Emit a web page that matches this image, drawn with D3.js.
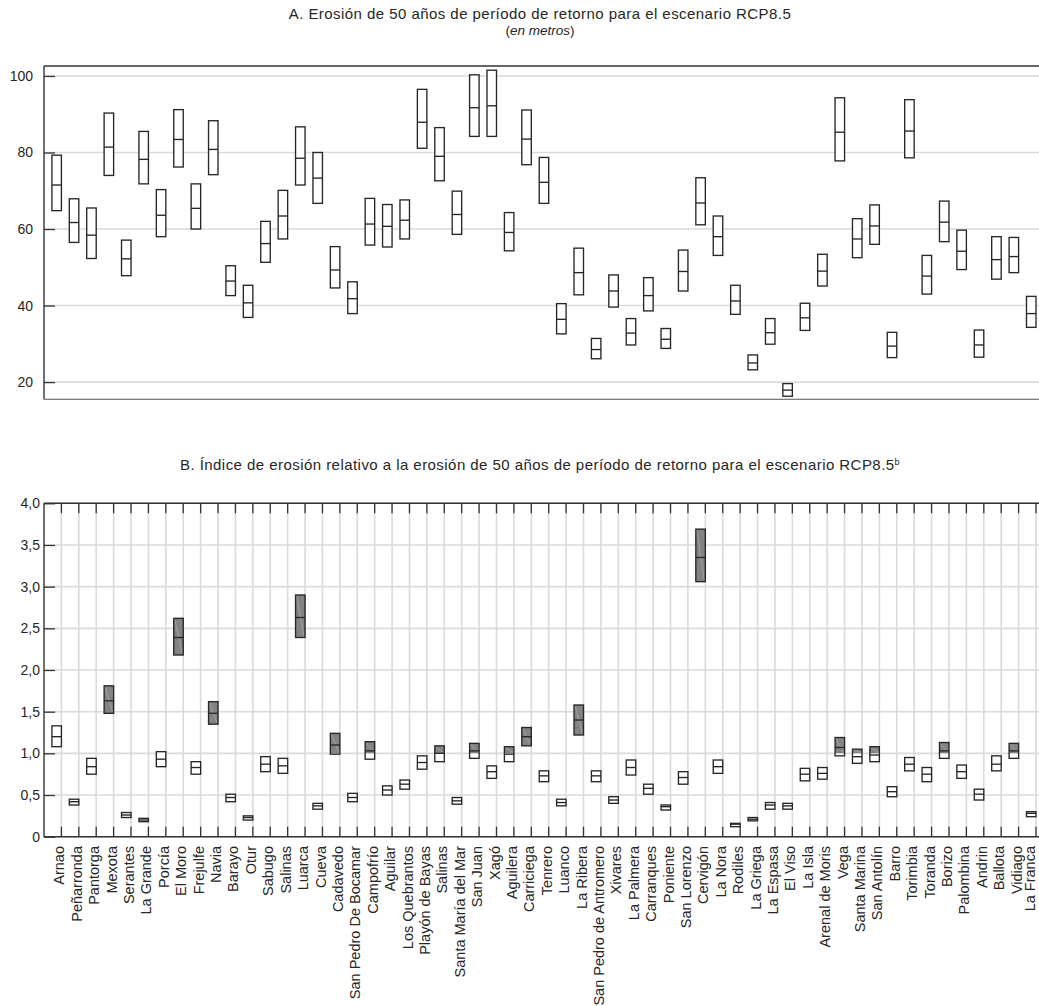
<!DOCTYPE html>
<html>
<head>
<meta charset="utf-8">
<script src="https://cdn.jsdelivr.net/npm/d3@7"></script>
<style>
  html, body { margin: 0; padding: 0; background: #fff; }
  svg { display: block; font-family: "Liberation Sans", Arial, Helvetica, sans-serif; }
</style>
</head>
<body>
<svg id="chart" width="1039" height="1006"></svg>
<script>
// Beaches, west to east
const beaches = ["Arnao","Peñarronda","Pantorga","Mexota","Serantes","La Grande","Porcía","El Moro","Frejulfe","Navia",
  "Barayo","Otur","Sabugo","Salinas","Luarca","Cueva","Cadavedo","San Pedro De Bocamar","Campofrío","Aguilar",
  "Los Quebrantos","Playón de Bayas","Salinas","Santa María del Mar","San Juan","Xagó","Aguilera","Carriciega","Tenrero","Luanco",
  "La Ribera","San Pedro de Antromero","Xivares","La Palmera","Carranques","Poniente","San Lorenzo","Cervigón","La Nora","Rodiles",
  "La Griega","La Espasa","El Viso","La Isla","Arenal de Moris","Vega","Santa Marina","San Antolín","Barro","Torimbia",
  "Toranda","Borizo","Palombina","Andrin","Ballota","Vidiago","La Franca"];

// A. 50-year return period erosion, RCP8.5 (metres): upper, central, lower
const erosionHigh = [79.3,67.9,65.5,90.3,57.1,85.5,70.3,91.2,71.8,88.3,
  50.4,45.3,62.0,70.1,86.7,80.0,55.4,46.2,68.0,66.4,
  67.6,96.5,86.5,69.9,100.3,101.5,64.3,91.1,78.7,40.5,
  55.0,31.4,48.0,36.6,47.3,34.0,54.5,73.4,63.4,45.3,
  27.1,36.6,19.6,40.6,53.4,94.3,62.7,66.3,33.0,93.8,
  53.1,67.3,59.7,33.6,58.0,57.8,42.4];
const erosionMid = [71.5,61.7,58.4,81.4,52.2,78.2,63.6,83.4,65.4,80.8,
  46.4,40.7,56.2,63.4,78.5,73.3,49.3,41.8,61.3,60.7,
  62.3,87.9,79.0,63.8,91.7,92.2,59.1,83.5,72.2,36.4,
  48.6,28.5,43.8,32.8,42.6,31.2,48.9,66.8,58.0,41.2,
  25.0,32.9,17.9,36.8,49.0,85.3,57.4,60.8,29.4,85.6,
  47.7,61.8,54.2,29.7,52.0,52.8,37.9];
const erosionLow = [64.8,56.5,52.3,74.0,47.8,71.8,58.0,76.2,60.0,74.2,
  42.6,36.9,51.3,57.4,71.5,66.7,44.6,37.9,55.8,55.3,
  57.4,81.1,72.6,58.6,84.2,84.2,54.3,76.8,66.7,32.6,
  42.8,26.1,39.6,29.7,38.6,28.8,43.8,61.1,53.1,37.7,
  23.2,29.9,16.3,33.5,45.1,77.8,52.5,56.0,26.4,78.6,
  43.0,56.7,49.4,26.5,46.9,48.6,34.3];

// B. Erosion index relative to the 50-year return period erosion: upper, central, lower
const indexHigh = [1.33,0.45,0.94,1.81,0.29,0.22,1.02,2.62,0.90,1.62,
  0.51,0.25,0.96,0.94,2.90,0.40,1.24,0.52,1.14,0.61,
  0.68,0.97,1.09,0.47,1.12,0.85,1.08,1.31,0.79,0.45,
  1.58,0.79,0.48,0.92,0.63,0.38,0.78,3.69,0.92,0.16,
  0.23,0.41,0.40,0.82,0.83,1.19,1.05,1.08,0.60,0.95,
  0.83,1.13,0.86,0.57,0.97,1.12,0.30];
const indexMid = [1.20,0.42,0.84,1.63,0.26,0.20,0.93,2.39,0.83,1.48,
  0.47,0.23,0.87,0.85,2.63,0.37,1.10,0.47,1.03,0.56,
  0.63,0.89,1.00,0.43,1.03,0.78,0.99,1.20,0.73,0.41,
  1.40,0.73,0.44,0.83,0.58,0.36,0.71,3.35,0.84,0.15,
  0.21,0.38,0.37,0.75,0.76,1.07,0.96,0.98,0.54,0.87,
  0.75,1.03,0.78,0.51,0.87,1.03,0.28];
const indexLow = [1.08,0.38,0.75,1.48,0.23,0.18,0.84,2.18,0.75,1.35,
  0.42,0.20,0.78,0.76,2.39,0.33,0.99,0.42,0.93,0.50,
  0.57,0.81,0.90,0.39,0.94,0.70,0.90,1.09,0.66,0.37,
  1.22,0.66,0.40,0.74,0.51,0.32,0.63,3.06,0.76,0.12,
  0.19,0.33,0.33,0.67,0.69,0.97,0.88,0.90,0.48,0.79,
  0.66,0.94,0.70,0.44,0.79,0.94,0.24];
// Beaches whose range above an index of 1 is shaded
const shaded = [0,0,0,1,0,0,0,1,0,1,
  0,0,0,0,1,0,1,0,1,0,
  0,0,1,0,1,0,1,1,0,0,
  1,0,0,0,0,0,0,1,0,0,
  0,0,0,0,0,1,1,1,0,0,
  0,1,0,0,0,1,0];
const shadeThreshold = 1;

const erosionTicks = [20, 40, 60, 80, 100];
const indexTicks = [0, 0.5, 1, 1.5, 2, 2.5, 3, 3.5, 4];
const indexTickLabels = ["0", "0,5", "1,0", "1,5", "2,0", "2,5", "3,0", "3,5", "4,0"];

const svg = d3.select("#chart");
const ink = "#262626", gridCol = "#dadada", axisCol = "#333", boxStroke = "#262626", shadeCol = "#838383";

const left = 44, right = 1039, plotEnd = 1036;
const idx = d3.range(beaches.length);
const band = d3.scaleBand().domain(idx).range([left, plotEnd]).paddingInner(0).paddingOuter(0);
const cx = i => band(i) + band.bandwidth();   // category position (tick line)
const boxW = 9.5;

// ---------- Panel A ----------
const yA = d3.scaleLinear().domain([15.5, 102.6]).range([399.3, 66]);
const gA = svg.append("g");

gA.append("text").attr("x", 540).attr("y", 19).attr("text-anchor", "middle")
  .attr("font-size", 15).attr("letter-spacing", 0.45).attr("fill", ink)
  .text("A. Erosión de 50 años de período de retorno para el escenario RCP8.5");
const sub = gA.append("text").attr("x", 540).attr("y", 35).attr("text-anchor", "middle")
  .attr("font-size", 13.5).attr("fill", ink);
sub.append("tspan").text("(");
sub.append("tspan").attr("font-style", "italic").text("en metros");
sub.append("tspan").text(")");

gA.append("g").selectAll("line").data(erosionTicks).join("line")
  .attr("x1", left).attr("x2", right)
  .attr("y1", d => yA(d)).attr("y2", d => yA(d))
  .attr("stroke", gridCol).attr("stroke-width", 1.6);

const axA = gA.append("g").attr("transform", `translate(${left},0)`)
  .call(d3.axisLeft(yA).tickValues(erosionTicks).tickSize(-11).tickPadding(11).tickFormat(d3.format("d")));
axA.select(".domain").remove();
axA.selectAll(".tick line").attr("stroke", axisCol).attr("stroke-width", 1.3);
axA.selectAll(".tick text").attr("font-size", 14).attr("fill", ink).attr("font-family", null);

gA.append("line").attr("x1", left).attr("x2", left).attr("y1", 66).attr("y2", 399.3).attr("stroke", axisCol).attr("stroke-width", 1.4);
gA.append("line").attr("x1", left).attr("x2", right).attr("y1", 66).attr("y2", 66).attr("stroke", axisCol).attr("stroke-width", 1.4);
gA.append("line").attr("x1", left).attr("x2", right).attr("y1", 399.3).attr("y2", 399.3).attr("stroke", "#555").attr("stroke-width", 1.1);

const boxesA = gA.append("g").selectAll("g").data(idx).join("g");
boxesA.append("rect")
  .attr("x", i => cx(i) - boxW).attr("width", boxW)
  .attr("y", i => yA(erosionHigh[i])).attr("height", i => yA(erosionLow[i]) - yA(erosionHigh[i]))
  .attr("fill", "#fff").attr("stroke", boxStroke).attr("stroke-width", 1.35);
boxesA.append("line")
  .attr("x1", i => cx(i) - boxW).attr("x2", i => cx(i))
  .attr("y1", i => yA(erosionMid[i])).attr("y2", i => yA(erosionMid[i]))
  .attr("stroke", boxStroke).attr("stroke-width", 1.35);

// ---------- Panel B ----------
const yB = d3.scaleLinear().domain([0, 4]).range([836.7, 503.3]);
const gB = svg.append("g");

const tB = gB.append("text").attr("x", 540).attr("y", 470).attr("text-anchor", "middle")
  .attr("font-size", 15).attr("letter-spacing", 0.45).attr("fill", ink);
tB.append("tspan").text("B. Índice de erosión relativo a la erosión de 50 años de período de retorno para el escenario RCP8.5");
tB.append("tspan").attr("font-size", 9).attr("dy", -5).text("b");

// grid
gB.append("g").selectAll("line").data(indexTicks).join("line")
  .attr("x1", left).attr("x2", right)
  .attr("y1", d => yB(d)).attr("y2", d => yB(d))
  .attr("stroke", gridCol).attr("stroke-width", 1.6);
gB.append("g").selectAll("line").data(idx).join("line")
  .attr("x1", i => cx(i)).attr("x2", i => cx(i))
  .attr("y1", yB(4)).attr("y2", yB(0))
  .attr("stroke", gridCol).attr("stroke-width", 1.6);

// inner category ticks, top and bottom
gB.append("g").selectAll("line").data(idx).join("line")
  .attr("x1", i => cx(i)).attr("x2", i => cx(i))
  .attr("y1", yB(4)).attr("y2", yB(4) + 10)
  .attr("stroke", axisCol).attr("stroke-width", 1.3);
gB.append("g").selectAll("line").data(idx).join("line")
  .attr("x1", i => cx(i)).attr("x2", i => cx(i))
  .attr("y1", yB(0) - 10).attr("y2", yB(0))
  .attr("stroke", axisCol).attr("stroke-width", 1.3);

const axB = gB.append("g").attr("transform", `translate(${left},0)`)
  .call(d3.axisLeft(yB).tickValues(indexTicks).tickSize(-11).tickPadding(4)
    .tickFormat((d, k) => indexTickLabels[k]));
axB.select(".domain").remove();
axB.selectAll(".tick line").attr("stroke", axisCol).attr("stroke-width", 1.3);
axB.selectAll(".tick text").attr("font-size", 14).attr("fill", ink).attr("font-family", null);

gB.append("line").attr("x1", left).attr("x2", left).attr("y1", yB(4)).attr("y2", yB(0)).attr("stroke", axisCol).attr("stroke-width", 1.4);
gB.append("line").attr("x1", left).attr("x2", right).attr("y1", yB(4)).attr("y2", yB(4)).attr("stroke", axisCol).attr("stroke-width", 1.4);
gB.append("line").attr("x1", left).attr("x2", right).attr("y1", yB(0)).attr("y2", yB(0)).attr("stroke", axisCol).attr("stroke-width", 1.4);

// category labels (the last one is kept inside the right edge)
gB.append("g").selectAll("text").data(idx).join("text")
  .attr("transform", i => `translate(${Math.min(cx(i), right - 7)},846) rotate(-90)`)
  .attr("text-anchor", "end").attr("dy", "0.21em")
  .attr("font-size", 14.5).attr("fill", ink)
  .text(i => beaches[i]);

// boxes
const boxesB = gB.append("g").selectAll("g").data(idx).join("g");
boxesB.append("rect")
  .attr("x", i => cx(i) - boxW).attr("width", boxW)
  .attr("y", i => yB(indexHigh[i])).attr("height", i => yB(indexLow[i]) - yB(indexHigh[i]))
  .attr("fill", "#fff");
const shadedB = boxesB.filter(i => shaded[i] && indexHigh[i] > shadeThreshold);
shadedB.append("rect")
  .attr("x", i => cx(i) - boxW).attr("width", boxW)
  .attr("y", i => yB(indexHigh[i]))
  .attr("height", i => yB(Math.max(indexLow[i], shadeThreshold)) - yB(indexHigh[i]))
  .attr("fill", shadeCol);
shadedB.append("line")
  .attr("x1", i => cx(i) - boxW + 1).attr("x2", i => cx(i) - 1)
  .attr("y1", i => yB(indexHigh[i]) + 1)
  .attr("y2", i => yB(Math.max(indexLow[i], shadeThreshold)) - 1)
  .attr("stroke", "#a8a8a8").attr("stroke-width", 0.8);
boxesB.append("rect")
  .attr("x", i => cx(i) - boxW).attr("width", boxW)
  .attr("y", i => yB(indexHigh[i])).attr("height", i => yB(indexLow[i]) - yB(indexHigh[i]))
  .attr("fill", "none").attr("stroke", boxStroke).attr("stroke-width", 1.35);
boxesB.append("line")
  .attr("x1", i => cx(i) - boxW).attr("x2", i => cx(i))
  .attr("y1", i => yB(indexMid[i])).attr("y2", i => yB(indexMid[i]))
  .attr("stroke", boxStroke).attr("stroke-width", 1.35);
</script>
</body>
</html>
